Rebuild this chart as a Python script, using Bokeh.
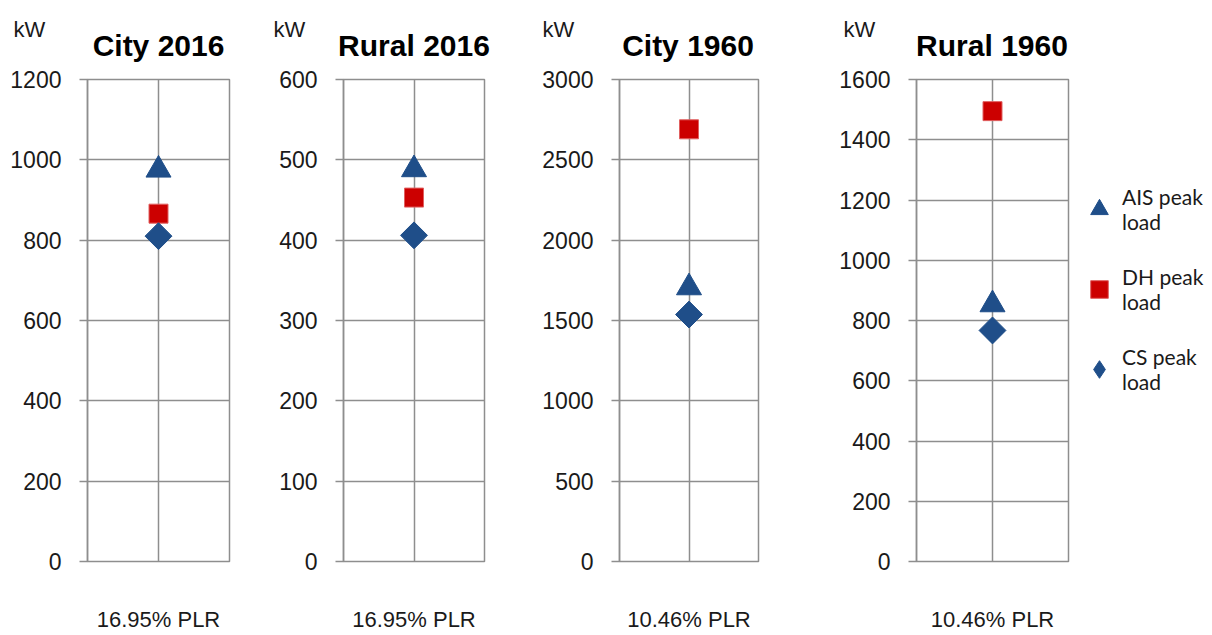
import math
from bokeh.plotting import figure
from bokeh.layouts import row, column
from bokeh.models import Range1d, FactorRange, FixedTicker, Legend, LegendItem, Label
from bokeh.embed import file_html
from bokeh.resources import INLINE

# ---------------- data ----------------
titles = ["City 2016", "Rural 2016", "City 1960", "Rural 1960"]
plr_labels = ["16.95% PLR", "16.95% PLR", "10.46% PLR", "10.46% PLR"]
y_max = [1200, 600, 3000, 1600]
y_step = [200, 100, 500, 200]
ais_peak = [975, 488, 1705, 853]
dh_peak = [866, 453, 2690, 1495]
cs_peak = [810, 406, 1537, 767]
series_names = ["AIS peak\nload", "DH peak\nload", "CS peak\nload"]
unit = "kW"

# ---------------- style / layout ----------------
BLUE = "#1F4E89"
RED = "#CC0000"
RED_EDGE = "#E06060"
GRID = "#8E8E8E"
TXT = "#1A1A1A"
AX_FONT = "Liberation Sans"

HEAD_H = 65
MAIN_TOP, FRAME_H, MAIN_BOT = 14, 486, 69
MAIN_H = MAIN_TOP + FRAME_H + MAIN_BOT

# main panel geometry: left border, frame width, right border
b_left = [87, 73, 78, 79]
frame_w = [142, 141, 141, 153]
b_right = [41, 55, 78, 7]
unit_off = [13, 3, 3, 7]      # unit label offset from the panel's left edge
LEG_W = 135
fig_w = [b_left[i] + frame_w[i] + b_right[i] for i in range(4)]
fig_x0 = [sum(fig_w[:i]) for i in range(4)]
TOTAL_W = sum(fig_w) + LEG_W

# ---------------- header strip: units and panel titles ----------------
head = figure(width=TOTAL_W, height=HEAD_H, x_range=Range1d(0, TOTAL_W),
              y_range=Range1d(0, HEAD_H), output_backend="svg", toolbar_location=None,
              x_axis_location=None, y_axis_location=None,
              min_border_left=0, min_border_right=0, min_border_top=0, min_border_bottom=0)
head.grid.visible = False
head.outline_line_color = None
head.background_fill_color = "white"
head.border_fill_color = "white"
for i in range(4):
    head.add_layout(Label(x=fig_x0[i] + unit_off[i], y=HEAD_H - 29, text=unit,
                          text_align="left", text_baseline="middle",
                          text_font=AX_FONT, text_font_size="22px", text_color=TXT))
    head.add_layout(Label(x=fig_x0[i] + b_left[i] + frame_w[i] / 2, y=HEAD_H - 45,
                          text=titles[i], text_align="center", text_baseline="middle",
                          text_font=AX_FONT, text_font_style="bold",
                          text_font_size="30px", text_color="#000000"))

# ---------------- the four panels ----------------
mains = []
for i in range(4):
    xr = FactorRange(factors=[plr_labels[i]], range_padding=0)
    p = figure(width=fig_w[i], height=MAIN_H, x_range=xr, y_range=Range1d(0, y_max[i]),
               output_backend="svg", toolbar_location=None,
               min_border_left=b_left[i], min_border_right=b_right[i],
               min_border_top=MAIN_TOP, min_border_bottom=MAIN_BOT)
    p.background_fill_color = "white"
    p.border_fill_color = "white"
    p.outline_line_color = GRID
    p.outline_line_width = 1.5

    xa = p.xaxis[0]
    xa.axis_line_color = None
    xa.major_tick_line_color = None
    xa.major_tick_out = 0
    xa.major_tick_in = 0
    xa.minor_tick_line_color = None
    xa.major_label_standoff = 45
    xa.major_label_text_font = AX_FONT
    xa.major_label_text_font_size = "22px"
    xa.major_label_text_color = TXT

    p.xgrid.grid_line_color = GRID
    p.xgrid.grid_line_width = 1.5
    p.ygrid.grid_line_color = GRID
    p.ygrid.grid_line_width = 1.5
    p.ygrid.ticker = FixedTicker(ticks=list(range(0, y_max[i] + 1, y_step[i])))

    ax = p.yaxis[0]
    ax.ticker = FixedTicker(ticks=list(range(0, y_max[i] + 1, y_step[i])))
    ax.axis_line_color = GRID
    ax.axis_line_width = 1.5
    ax.major_tick_line_color = GRID
    ax.major_tick_line_width = 1.5
    ax.major_tick_out = 8
    ax.major_tick_in = 0
    ax.minor_tick_line_color = None
    ax.major_label_text_font = AX_FONT
    ax.major_label_text_font_size = "23px"
    ax.major_label_text_color = TXT
    ax.major_label_standoff = 18

    cat = [plr_labels[i]]
    p.scatter(x=cat, y=[ais_peak[i]], marker="triangle", size=25,
              fill_color=BLUE, line_color=BLUE)
    p.scatter(x=cat, y=[dh_peak[i]], marker="square", size=19,
              fill_color=RED, line_color=RED_EDGE, line_width=1)
    p.scatter(x=cat, y=[cs_peak[i]], marker="square", angle=math.pi / 4,
              size=19, fill_color=BLUE, line_color=BLUE)
    mains.append(p)

# ---- legend panel (its glyphs lie outside its empty view; only the legend shows) ----
lg = figure(width=LEG_W, height=MAIN_H, x_range=FactorRange(factors=[plr_labels[3]]),
            y_range=Range1d(-2, -1), output_backend="svg", toolbar_location=None,
            x_axis_location=None, y_axis_location=None,
            min_border_left=0, min_border_right=0,
            min_border_top=MAIN_TOP, min_border_bottom=MAIN_BOT)
lg.grid.visible = False
lg.outline_line_color = None
cat = [plr_labels[3]]
l_ais = lg.scatter(x=cat, y=[ais_peak[3]], marker="triangle",
                   fill_color=BLUE, line_color=BLUE)
l_dh = lg.scatter(x=cat, y=[dh_peak[3]], marker="square",
                  fill_color=RED, line_color=RED_EDGE, line_width=1)
l_cs = lg.scatter(x=cat, y=[cs_peak[3]], marker="diamond",
                  fill_color=BLUE, line_color=BLUE)
legend = Legend(items=[LegendItem(label=series_names[0], renderers=[l_ais]),
                       LegendItem(label=series_names[1], renderers=[l_dh]),
                       LegendItem(label=series_names[2], renderers=[l_cs])],
                location=(2, 167),
                glyph_width=44, glyph_height=50, label_standoff=1, spacing=30,
                padding=0, margin=0,
                border_line_color=None, background_fill_alpha=0,
                label_text_font="Lato", label_text_font_size="21px",
                label_text_color=TXT)
lg.add_layout(legend)

layout = column(head, row(*mains, lg, spacing=0), spacing=0)
open("out.html", "w").write(file_html(layout, INLINE))
